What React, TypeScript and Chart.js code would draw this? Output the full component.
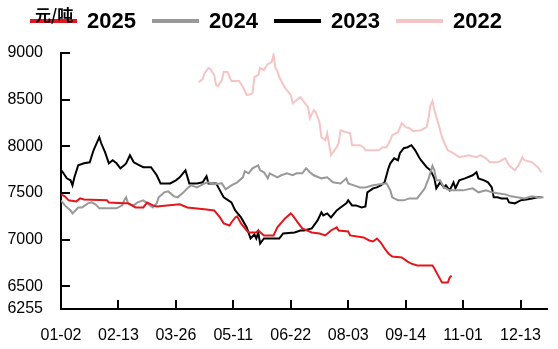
import React, { useEffect, useRef } from 'react';
import { Chart, registerables } from 'chart.js';

Chart.register(...registerables);

// ---- data ----
const tickDays = [0, 30, 60, 90, 120, 150, 180, 210, 240];
const tickLabels = ['01-02', '02-13', '03-26', '05-11', '06-22', '08-03', '09-14', '11-01', '12-13'];
const yTicks = [6255, 6500, 7000, 7500, 8000, 8500, 9000];
const unitLabel = '元/吨';
const seriesNames = ['2025', '2024', '2023', '2022'];

const days2025 = [0,2,4,8,10,12,24,25,33,35,39,43,45,48,50,62,66,76,80,83,85,88,89,91,92,94,97,98,102,103,106,111,113,117,120,121,124,126,131,135,138,141,144,145,150,151,158,161,163,165,167,169,171,173,178,181,183,186,194,195,197,199,202,203,204];
const vals2025 = [7484,7463,7420,7409,7441,7430,7420,7398,7388,7388,7344,7344,7398,7366,7355,7377,7344,7323,7312,7237,7173,7151,7183,7237,7248,7173,7097,7076,7076,7097,7044,7044,7130,7226,7280,7259,7173,7119,7076,7065,7044,7097,7130,7097,7087,7044,7022,6990,6979,7011,6968,6904,6850,6818,6807,6764,6742,6721,6721,6689,6613,6538,6538,6592,6613];

const days2024 = [0,2,5,6,9,11,14,16,18,20,29,32,33,34,35,38,40,43,45,48,50,51,54,56,59,61,64,66,68,71,75,77,80,84,86,89,92,95,96,98,100,103,104,106,108,109,113,115,118,121,123,126,128,130,132,136,139,142,146,149,150,153,156,159,163,170,172,173,176,179,182,186,188,190,192,194,195,196,198,200,203,210,215,218,222,225,228,232,235,242,246,249,252];
const vals2024 = [7420,7366,7312,7280,7344,7344,7388,7398,7377,7334,7334,7366,7420,7452,7388,7366,7398,7420,7388,7344,7388,7452,7506,7516,7463,7452,7506,7549,7581,7559,7602,7613,7592,7602,7538,7581,7613,7667,7732,7710,7764,7796,7742,7721,7656,7710,7667,7689,7710,7689,7710,7710,7764,7721,7689,7656,7667,7613,7602,7656,7602,7581,7559,7559,7581,7602,7527,7452,7420,7420,7441,7441,7495,7549,7656,7790,7742,7635,7635,7559,7527,7527,7549,7506,7527,7506,7495,7484,7463,7441,7463,7452,7452];

const days2023 = [0,1,3,5,6,7,9,12,15,17,20,21,23,25,27,29,31,33,34,36,38,41,43,47,50,52,57,60,62,65,67,71,74,76,77,81,83,85,89,91,94,97,99,101,102,103,104,106,108,114,116,122,125,127,131,134,136,137,139,141,144,146,149,150,152,154,157,159,160,163,165,167,169,171,172,174,176,177,179,181,183,185,187,188,191,193,195,196,198,200,201,203,205,206,208,211,215,217,218,221,223,225,226,228,230,233,234,237,240,243,246,249,251];
const vals2023 = [7742,7721,7656,7635,7581,7667,7796,7817,7828,7957,8097,8032,7936,7817,7850,7817,7764,7796,7817,7904,7828,7796,7775,7775,7689,7602,7602,7635,7667,7742,7602,7602,7613,7678,7602,7602,7527,7452,7398,7312,7237,7130,7011,7054,7011,7076,6957,7011,7011,7011,7065,7076,7097,7097,7119,7205,7291,7259,7280,7237,7312,7344,7388,7420,7366,7366,7344,7355,7506,7549,7559,7581,7613,7764,7817,7871,7850,7925,7979,7990,8011,7957,7882,7850,7775,7742,7656,7549,7613,7559,7581,7527,7613,7549,7635,7656,7689,7721,7656,7635,7613,7559,7452,7452,7441,7441,7398,7388,7420,7430,7441,7452,7452];

const days2022 = [72,74,75,77,78,80,81,82,84,85,87,89,93,95,97,99,100,101,103,104,106,108,109,110,111,112,113,114,117,120,121,125,127,129,130,132,133,135,136,138,139,141,144,145,146,149,151,152,154,156,158,159,166,168,170,172,173,176,178,180,182,184,188,191,192,193,194,195,197,199,200,202,204,205,208,213,217,219,222,224,228,232,234,237,239,241,242,246,249,251];
const vals2022 = [8688,8720,8785,8839,8828,8764,8656,8645,8710,8796,8796,8699,8699,8635,8549,8559,8570,8742,8764,8839,8817,8882,8892,8903,8979,8839,8806,8742,8624,8549,8462,8527,8473,8420,8301,8387,8366,8258,8097,8065,8140,7904,7990,8032,8172,8151,8140,8011,8011,8011,7990,7957,7957,7990,7990,8065,8119,8151,8248,8205,8194,8162,8172,8205,8312,8441,8484,8387,8248,8097,8043,7957,7936,7925,7882,7904,7882,7904,7871,7828,7828,7871,7796,7742,7796,7882,7850,7828,7775,7721];

const X_MAX = 254;

const colors = ['#E3161D', '#999999', '#000000', '#F5C4C4'];

const toPoints = (d: number[], v: number[]) => d.map((x, i) => ({ x, y: v[i] }));

const FONT = '"Liberation Sans", Arial, sans-serif';

const legendPlugin = {
  id: 'customLegend',
  afterDraw(chart: any) {
    const ctx = chart.ctx;
    ctx.save();
    chart.data.datasets.forEach((ds: any, i: number) => {
      const x0 = 30 + i * 122;
      ctx.strokeStyle = ds.borderColor;
      ctx.lineWidth = 4;
      ctx.beginPath();
      ctx.moveTo(x0, 21);
      ctx.lineTo(x0 + 47, 21);
      ctx.stroke();
      ctx.fillStyle = '#000';
      ctx.font = 'bold 22px ' + FONT;
      ctx.textBaseline = 'middle';
      ctx.textAlign = 'left';
      ctx.fillText(ds.label, x0 + 57, 22);
    });
    ctx.fillStyle = '#000';
    ctx.font = 'bold 16px "Noto Sans CJK SC", sans-serif';
    ctx.textBaseline = 'middle';
    ctx.textAlign = 'left';
    ctx.fillText(unitLabel, 35, 15);
    ctx.restore();
  },
};

const innerTicksPlugin = {
  id: 'innerTicks',
  afterDraw(chart: any) {
    const { ctx, chartArea, scales } = chart;
    ctx.save();
    ctx.strokeStyle = '#000';
    ctx.lineWidth = 2;
    scales.y.ticks.forEach((t: any) => {
      if (t.value === yTicks[0]) return;
      const py = Math.round(scales.y.getPixelForValue(t.value));
      ctx.beginPath();
      ctx.moveTo(chartArea.left, py);
      ctx.lineTo(chartArea.left + 9, py);
      ctx.stroke();
    });
    scales.x.ticks.forEach((t: any) => {
      if (t.value === tickDays[0]) return;
      const px = Math.round(scales.x.getPixelForValue(t.value));
      ctx.beginPath();
      ctx.moveTo(px, chartArea.bottom);
      ctx.lineTo(px, chartArea.bottom - 9);
      ctx.stroke();
    });
    ctx.restore();
  },
};

export default function App() {
  const ref = useRef<HTMLCanvasElement | null>(null);
  useEffect(() => {
    document.body.style.margin = '0';
    if (!ref.current) return;
    const allDays = [days2025, days2024, days2023, days2022];
    const allVals = [vals2025, vals2024, vals2023, vals2022];
    const chart = new Chart(ref.current, {
      type: 'line',
      data: {
        datasets: seriesNames.map((name, i) => ({
          label: name,
          data: toPoints(allDays[i], allVals[i]),
          borderColor: colors[i],
          backgroundColor: colors[i],
          borderWidth: 2,
          pointRadius: 0,
          tension: 0,
          fill: false,
        })),
      },
      options: {
        animation: false,
        responsive: true,
        maintainAspectRatio: false,
        layout: { padding: { top: 53, left: 0, right: 0, bottom: 0 } },
        plugins: {
          legend: { display: false },
          tooltip: { enabled: false },
        },
        scales: {
          x: {
            type: 'linear',
            min: 0,
            max: X_MAX,
            afterBuildTicks: (s: any) => {
              s.ticks = tickDays.map((v) => ({ value: v }));
            },
            afterFit: (s: any) => {
              s.height = 40;
            },
            grid: { display: true, drawOnChartArea: false, drawTicks: false },
            border: { display: true, color: '#000', width: 2 },
            ticks: {
              autoSkip: false,
              maxRotation: 0,
              padding: 17,
              color: '#000',
              font: { family: FONT, size: 16 },
              callback: (v: any) => {
                const i = tickDays.indexOf(Number(v));
                return i >= 0 ? tickLabels[i] : '';
              },
            },
          },
          y: {
            type: 'linear',
            min: yTicks[0],
            max: yTicks[yTicks.length - 1],
            afterBuildTicks: (s: any) => {
              s.ticks = yTicks.map((v) => ({ value: v }));
            },
            afterFit: (s: any) => {
              s.width = 61;
            },
            grid: { display: true, drawOnChartArea: false, drawTicks: false },
            border: { display: true, color: '#000', width: 2 },
            ticks: {
              padding: 18,
              color: '#000',
              font: { family: FONT, size: 16 },
              callback: (v: any) => String(v),
            },
          },
        },
      },
      plugins: [legendPlugin, innerTicksPlugin],
    } as any);
    return () => chart.destroy();
  }, []);
  return (
    <div style={{ width: 558, height: 349, position: 'relative' }}>
      <canvas ref={ref} />
    </div>
  );
}
